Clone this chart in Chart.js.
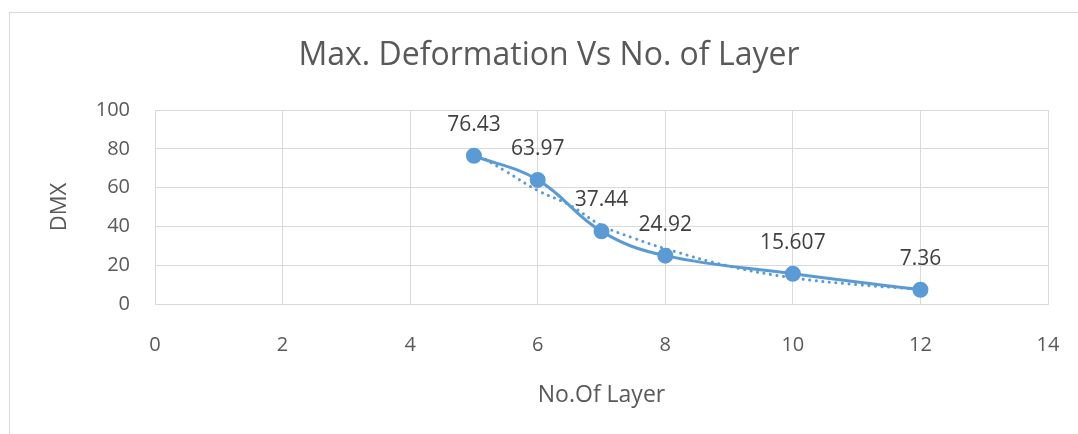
<!DOCTYPE html>
<html>
<head>
<meta charset="utf-8">
<script src="https://cdn.jsdelivr.net/npm/chart.js@4"></script>
<style>
  html, body { margin: 0; padding: 0; background: #fff; }
  #wrap { position: relative; width: 1078px; height: 434px; overflow: hidden; }
  #frame { position: absolute; left: 9px; top: 12px; width: 1200px; height: 600px; border: 1px solid #d9d9d9; }
  canvas { position: absolute; left: 0; top: 0; }
</style>
</head>
<body>
<div id="wrap">
  <div id="frame"></div>
  <canvas id="myChart" width="1078" height="434"></canvas>
</div>
<script>
// measured layers and max deformation
const layers = [5, 6, 7, 8, 10, 12];
const dmx = [76.43, 63.97, 37.44, 24.92, 15.607, 7.36];

// dotted trendline
const trendX = [5, 5.5, 6, 6.5, 7, 7.5, 8, 9, 10, 11, 12];
const trendY = [78, 68.4, 58.5, 51, 40.5, 34, 28.5, 19.5, 13.5, 10, 7.6];

const xTicks = [0, 2, 4, 6, 8, 10, 12, 14];
const yTicks = [0, 20, 40, 60, 80, 100];

const blue = '#5B9BD5';
const textGrey = '#595959';
const gridGrey = '#d9d9d9';
const fontFamily = '"Open Sans", sans-serif';

// draws the value labels above each point
const pointLabels = {
    id: 'pointLabels',
    afterDatasetsDraw(chart) {
        const ctx = chart.ctx;
        const meta = chart.getDatasetMeta(1);
        ctx.save();
        ctx.font = '21px ' + fontFamily;
        ctx.fillStyle = '#404040';
        ctx.textAlign = 'center';
        ctx.textBaseline = 'middle';
        meta.data.forEach((pt, i) => {
            ctx.fillText(String(dmx[i]), pt.x, pt.y - 31);
        });
        ctx.restore();
    }
};

document.addEventListener('DOMContentLoaded', function () {
    const ctx = document.getElementById('myChart').getContext('2d');

    const data = {
        datasets: [
            {
                label: 'Trend',
                data: trendX.map((x, i) => ({ x: x, y: trendY[i] })),
                showLine: true,
                borderColor: blue,
                borderWidth: 3,
                borderDash: [0.1, 6.5],
                borderCapStyle: 'round',
                pointRadius: 0,
                tension: 0.4,
                fill: false,
            },
            {
                label: 'DMX',
                data: layers.map((x, i) => ({ x: x, y: dmx[i] })),
                showLine: true,
                borderColor: blue,
                backgroundColor: blue,
                borderWidth: 3,
                pointRadius: 6.5,
                pointBackgroundColor: blue,
                pointBorderColor: blue,
                tension: 0.4,
                fill: false,
            },
        ],
    };

    const config = {
        type: 'scatter',
        data,
        options: {
            responsive: false,
            animation: false,
            layout: {
                padding: { left: 39, right: 19, top: 0, bottom: 0 },
            },
            plugins: {
                legend: { display: false },
                tooltip: { enabled: false },
                title: {
                    display: true,
                    text: 'Max. Deformation Vs No. of Layer',
                    color: textGrey,
                    font: { family: fontFamily, size: 32, weight: 'normal', lineHeight: 1.2 },
                    padding: { top: 37, bottom: 34.6 },
                },
            },
            scales: {
                x: {
                    type: 'linear',
                    min: 0,
                    max: 14,
                    afterBuildTicks: (scale) => { scale.ticks = xTicks.map(v => ({ value: v })); },
                    afterFit: (scale) => {
                        scale.height = 130;
                        scale.paddingLeft = 0;
                        scale.paddingRight = 30;
                    },
                    grid: { color: gridGrey, lineWidth: 1, drawTicks: false },
                    border: { color: gridGrey, width: 1 },
                    ticks: {
                        color: textGrey,
                        padding: 29,
                        font: { family: fontFamily, size: 20 },
                    },
                    title: {
                        display: true,
                        text: 'No.Of Layer',
                        color: textGrey,
                        font: { family: fontFamily, size: 23 },
                        padding: { top: 0, bottom: 25 },
                    },
                },
                y: {
                    type: 'linear',
                    min: 0,
                    max: 100,
                    afterBuildTicks: (scale) => { scale.ticks = yTicks.map(v => ({ value: v })); },
                    afterFit: (scale) => { scale.width = 116; },
                    grid: { color: gridGrey, lineWidth: 1, drawTicks: false },
                    border: { color: gridGrey, width: 1 },
                    ticks: {
                        color: textGrey,
                        padding: 25,
                        font: { family: fontFamily, size: 20 },
                    },
                    title: {
                        display: true,
                        text: 'DMX',
                        color: textGrey,
                        font: { family: fontFamily, size: 22 },
                        padding: { top: 8, bottom: 0 },
                    },
                },
            },
        },
        plugins: [pointLabels],
    };

    new Chart(ctx, config);
});
</script>
</body>
</html>
